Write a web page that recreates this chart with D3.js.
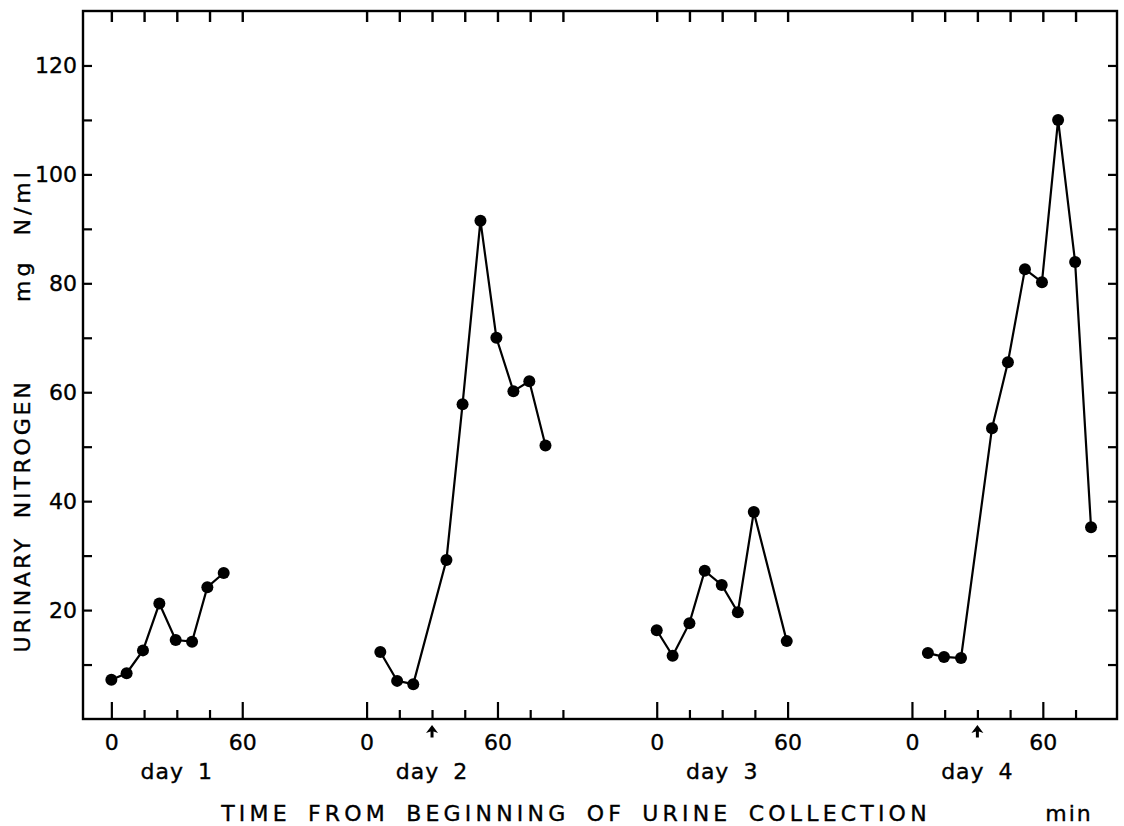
<!DOCTYPE html>
<html>
<head>
<meta charset="utf-8">
<script src="https://cdn.jsdelivr.net/npm/d3@7"></script>
<style>
  body { margin: 0; background: #fff; }
  text { font-family: "DejaVu Sans", sans-serif; fill: #000; stroke: #000; stroke-width: 0.35px; }
</style>
</head>
<body>
<div id="chart"></div>
<script>
// minutes from the start of collection, one list per day
const dayNames = ["day 1", "day 2", "day 3", "day 4"];
const dayOffset = [0, 117, 250, 367];      // where each day's 0 sits on the shared time axis
const dayTickEnd = [60, 90, 60, 75];
const arrowMin = [null, 30, null, 30];

const day1Time = [0, 7, 14.5, 22, 29.5, 37, 44, 51.5];
const day1N = [7.2, 8.4, 12.6, 21.2, 14.5, 14.2, 24.2, 26.8];
const day2Time = [6.3, 14, 21.4, 36.6, 44, 52.2, 59.5, 67.3, 74.6, 82];
const day2N = [12.3, 7, 6.4, 29.2, 57.8, 91.5, 70, 60.2, 62, 50.2];
const day3Time = [0, 7.3, 15, 22, 29.8, 37.2, 44.5, 59.6];
const day3N = [16.3, 11.6, 17.6, 27.2, 24.6, 19.6, 38, 14.3];
const day4Time = [7.3, 14.7, 22.5, 36.7, 44, 51.8, 59.6, 67, 74.8, 82.1];
const day4N = [12.1, 11.4, 11.2, 53.4, 65.5, 82.6, 80.2, 110, 83.9, 35.2];

const yTicks = d3.range(10, 121, 10);
const yLabels = [20, 40, 60, 80, 100, 120];
const xLabels = [0, 60];

const series = [
  [day1Time, day1N], [day2Time, day2N], [day3Time, day3N], [day4Time, day4N]
];

const width = 1124, height = 826;
const x = d3.scaleLinear().domain([-13, 461]).range([83, 1117]);
const y = d3.scaleLinear().domain([0, 130]).range([719, 11]);

const svg = d3.select("#chart").append("svg")
  .attr("width", width)
  .attr("height", height);

// frame
svg.append("rect")
  .attr("x", x.range()[0]).attr("y", y.range()[1])
  .attr("width", x.range()[1] - x.range()[0])
  .attr("height", y.range()[0] - y.range()[1])
  .attr("fill", "none").attr("stroke", "#000").attr("stroke-width", 2.4);

// y axes, ticks pointing inward
const yl = svg.append("g")
  .attr("transform", `translate(${x.range()[0]},0)`)
  .call(d3.axisLeft(y).tickValues(yTicks).tickSize(-9).tickPadding(6)
    .tickFormat(d => yLabels.includes(d) ? d : ""));
yl.select(".domain").remove();
yl.selectAll("line").attr("stroke-width", 2.2);
yl.selectAll("text").attr("font-size", 22).attr("font-family", null);

const yr = svg.append("g")
  .attr("transform", `translate(${x.range()[1]},0)`)
  .call(d3.axisRight(y).tickValues(yTicks).tickSize(-9).tickFormat(""));
yr.select(".domain").remove();
yr.selectAll("line").attr("stroke-width", 2.2);

// one time axis per day, bottom and top
dayNames.forEach((name, i) => {
  const dx = x.copy().domain(x.domain().map(v => v - dayOffset[i]));
  const ticks = d3.range(0, dayTickEnd[i] + 1, 15);

  const gb = svg.append("g")
    .attr("transform", `translate(0,${y.range()[0]})`)
    .call(d3.axisBottom(dx).tickValues(ticks).tickSizeOuter(0)
      .tickFormat(d => xLabels.includes(d) ? d : ""));
  gb.select(".domain").remove();
  gb.selectAll(".tick line")
    .attr("y2", d => xLabels.includes(d) ? -17 : -9)
    .attr("stroke-width", 2.2);
  gb.selectAll(".tick text")
    .attr("y", 15).attr("font-size", 22).attr("dy", "0.71em")
    .attr("font-family", null);

  const gt = svg.append("g")
    .attr("transform", `translate(0,${y.range()[1]})`)
    .call(d3.axisTop(dx).tickValues(ticks).tickSize(-11).tickFormat(""));
  gt.select(".domain").remove();
  gt.selectAll("line").attr("stroke-width", 2.4);

  svg.append("text")
    .attr("x", dx(30)).attr("y", 779)
    .attr("text-anchor", "middle")
    .attr("font-size", 22)
    .attr("letter-spacing", 1)
    .attr("word-spacing", 6)
    .text(name);

  if (arrowMin[i] != null) {
    const ax = dx(arrowMin[i]);
    svg.append("path")
      .attr("d", `M${ax},725 l-6,8 l4.5,-1.5 v6 h3 v-6 l4.5,1.5 z`)
      .attr("fill", "#000");
  }

  const [t, v] = series[i];
  const pts = t.map((m, k) => [dx(m), y(v[k])]);
  svg.append("path")
    .attr("d", d3.line()(pts))
    .attr("fill", "none")
    .attr("stroke", "#000")
    .attr("stroke-width", 2.2);
  svg.append("g").selectAll("circle")
    .data(pts)
    .join("circle")
    .attr("cx", d => d[0]).attr("cy", d => d[1])
    .attr("r", 6)
    .attr("fill", "#000");
});

// axis titles
svg.append("text")
  .attr("x", 576).attr("y", 821)
  .attr("text-anchor", "middle")
  .attr("font-size", 22)
  .attr("letter-spacing", 4.2)
  .attr("word-spacing", 6)
  .text("TIME FROM BEGINNING OF URINE COLLECTION");
svg.append("text")
  .attr("x", 1069).attr("y", 821)
  .attr("text-anchor", "middle")
  .attr("font-size", 22)
  .attr("letter-spacing", 2)
  .text("min");

svg.append("text")
  .attr("transform", "translate(30,516) rotate(-90)")
  .attr("text-anchor", "middle")
  .attr("font-size", 22)
  .attr("letter-spacing", 2.8)
  .attr("word-spacing", 8)
  .text("URINARY NITROGEN");
svg.append("text")
  .attr("transform", "translate(30,235) rotate(-90)")
  .attr("text-anchor", "middle")
  .attr("font-size", 22)
  .attr("letter-spacing", 4)
  .attr("word-spacing", 12)
  .text("mg N/ml");
</script>
</body>
</html>
